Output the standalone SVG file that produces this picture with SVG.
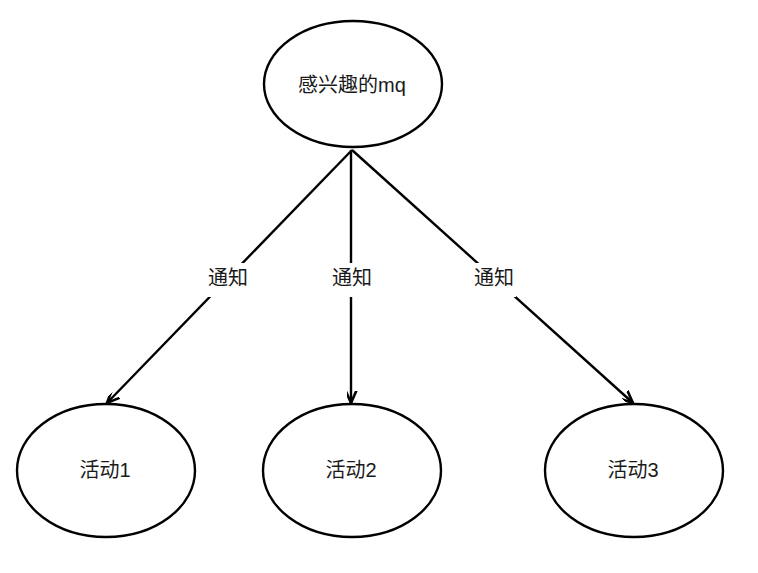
<svg xmlns="http://www.w3.org/2000/svg" width="758" height="573" viewBox="0 0 758 573">
  <style>
    .node { fill: #ffffff; stroke: #000000; stroke-width: 2.4; }
    .label { font-family: "Liberation Sans", "Noto Sans CJK SC", sans-serif; font-size: 20px; fill: #1a1a1a; text-anchor: middle; dominant-baseline: central; }
    .edge { stroke: #000000; stroke-width: 2.4; fill: none; }
    .lblbg { fill: #ffffff; stroke: none; }
  </style>
  <defs>
    <marker id="arrow" markerUnits="userSpaceOnUse" markerWidth="24" markerHeight="24" viewBox="-12 -20 24 24" refX="0" refY="0" orient="auto-start-reverse">
      <path d="M-7,-16 L0,0 L7,-16" transform="rotate(-90)" fill="none" stroke="#000" stroke-width="2.6" stroke-linejoin="miter"/>
    </marker>
  </defs>
  <rect width="758" height="573" fill="#ffffff"/>
  <g id="connectors">
    <g id="edge1">
      <line class="edge" x1="352" y1="150" x2="107" y2="403" marker-end="url(#arrow)"/>
      <rect class="lblbg" x="206" y="263" width="44" height="34"/>
      <text class="label" x="228" y="278">通知</text>
    </g>
    <g id="edge2">
      <line class="edge" x1="351" y1="150" x2="351" y2="403" marker-end="url(#arrow)"/>
      <rect class="lblbg" x="330" y="263" width="44" height="34"/>
      <text class="label" x="352" y="278">通知</text>
    </g>
    <g id="edge3">
      <line class="edge" x1="352" y1="150" x2="633" y2="403" marker-end="url(#arrow)"/>
      <rect class="lblbg" x="472" y="263" width="44" height="34"/>
      <text class="label" x="494" y="278">通知</text>
    </g>
  </g>
  <g id="node-mq">
    <ellipse class="node" cx="353" cy="84" rx="89" ry="63"/>
    <text class="label" x="352" y="85">感兴趣的mq</text>
  </g>
  <g id="node-act1">
    <ellipse class="node" cx="106" cy="470.5" rx="89" ry="66.5"/>
    <text class="label" x="105" y="470">活动1</text>
  </g>
  <g id="node-act2">
    <ellipse class="node" cx="352" cy="470.5" rx="89" ry="66.5"/>
    <text class="label" x="351" y="470">活动2</text>
  </g>
  <g id="node-act3">
    <ellipse class="node" cx="634" cy="470.5" rx="89" ry="66.5"/>
    <text class="label" x="633" y="470">活动3</text>
  </g>
</svg>
